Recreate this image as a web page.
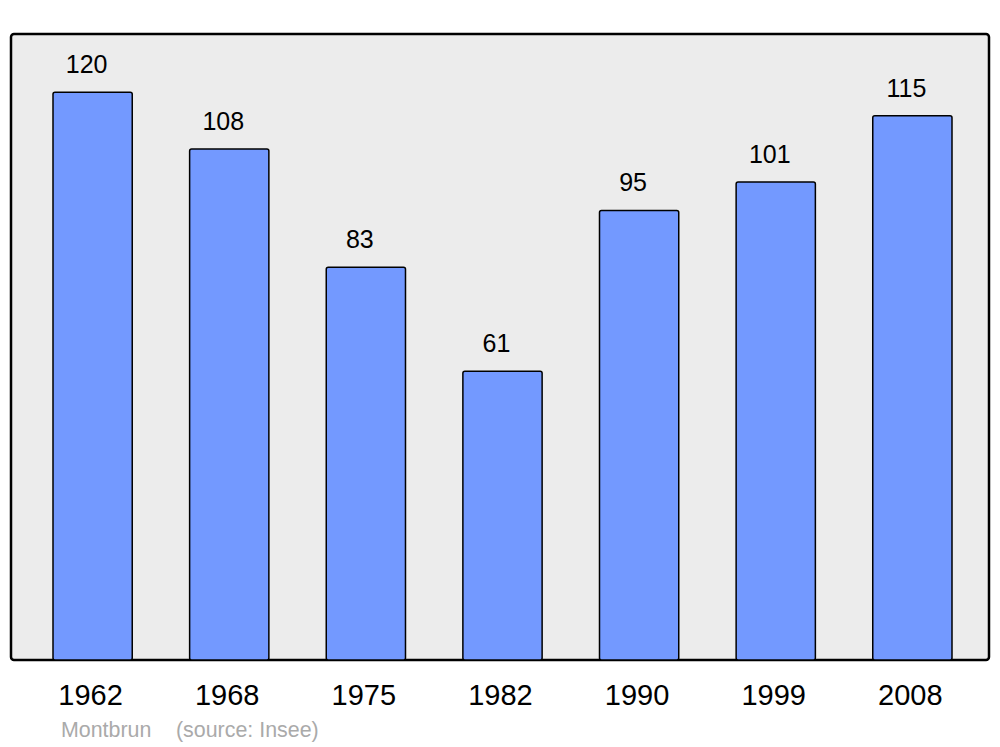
<!DOCTYPE html>
<html>
<head>
<meta charset="utf-8">
<script src="https://cdn.jsdelivr.net/npm/d3@7"></script>
<style>
  body { margin: 0; background: #fff; }
  text { font-family: "Liberation Sans", Arial, sans-serif; }
</style>
</head>
<body>
<div id="chart"></div>
<script>
// Data
const years = ["1962", "1968", "1975", "1982", "1990", "1999", "2008"];
const population = [120, 108, 83, 61, 95, 101, 115];
const commune = "Montbrun";
const source = "(source: Insee)";

// Dimensions
const width = 1000;
const height = 747;
const frame = { x: 11, y: 34, w: 978, h: 626 };

const svg = d3
  .select("#chart")
  .append("svg")
  .attr("width", width)
  .attr("height", height);

// Scales
const xScale = d3
  .scaleBand()
  .domain(years)
  .range([53, 952])
  .paddingInner(0.42)
  .paddingOuter(0);

const yScale = d3
  .scaleLinear()
  .domain([0, 132.3])
  .range([frame.y + frame.h, frame.y]);

// Frame
svg
  .append("rect")
  .attr("x", frame.x)
  .attr("y", frame.y)
  .attr("width", frame.w)
  .attr("height", frame.h)
  .attr("rx", 3)
  .attr("fill", "#ececec")
  .attr("stroke", "#000")
  .attr("stroke-width", 2.5);

// Bars
svg
  .selectAll("rect.bar")
  .data(population)
  .join("rect")
  .attr("class", "bar")
  .attr("x", (d, i) => xScale(years[i]))
  .attr("y", (d) => yScale(d))
  .attr("width", xScale.bandwidth())
  .attr("height", (d) => yScale(0) - yScale(d))
  .attr("rx", 2)
  .attr("fill", "#7399ff")
  .attr("stroke", "#000")
  .attr("stroke-width", 1.5);

// Value labels
svg
  .selectAll("text.value")
  .data(population)
  .join("text")
  .attr("class", "value")
  .attr("x", (d, i) => xScale(years[i]) + xScale.bandwidth() / 2 - 6)
  .attr("y", (d) => yScale(d) - 19)
  .attr("text-anchor", "middle")
  .attr("font-size", 25)
  .attr("fill", "#000")
  .text((d) => d);

// Year labels
svg
  .selectAll("text.year")
  .data(years)
  .join("text")
  .attr("class", "year")
  .attr("x", (d) => xScale(d) + xScale.bandwidth() / 2 - 2)
  .attr("y", 705)
  .attr("text-anchor", "middle")
  .attr("font-size", 29)
  .attr("fill", "#000")
  .text((d) => d);

// Footer
svg
  .append("text")
  .attr("x", 61)
  .attr("y", 737)
  .attr("font-size", 21.4)
  .attr("fill", "#aaaaaa")
  .text(commune);

svg
  .append("text")
  .attr("x", 176)
  .attr("y", 737)
  .attr("font-size", 21.4)
  .attr("fill", "#aaaaaa")
  .text(source);
</script>
</body>
</html>
